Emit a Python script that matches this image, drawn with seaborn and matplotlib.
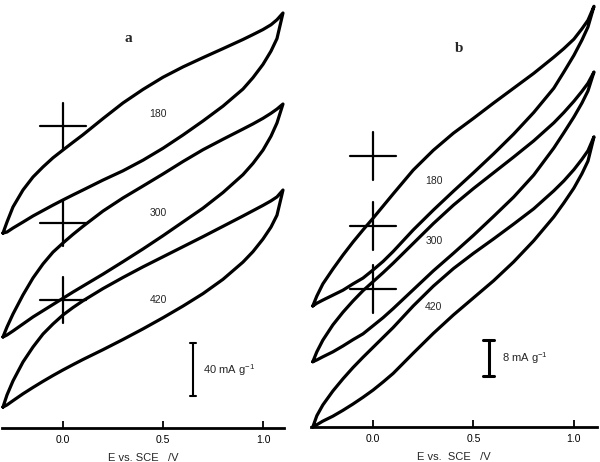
import numpy as np
import pandas as pd
import matplotlib.pyplot as plt
import seaborn as sns

#### Data: cyclic voltammograms (current in mA/g, relative to each curve's zero mark)
E = [-0.30, -0.28, -0.25, -0.20, -0.15, -0.10, -0.05, 0.00, 0.05, 0.10, 0.20, 0.30,
     0.40, 0.50, 0.60, 0.70, 0.80, 0.90, 0.95, 1.00, 1.04, 1.07, 1.10]
temps = ['180', '300', '420']

# panel a (anodic = upper branch, cathodic = lower branch)
a180_up = [-80.8, -72.5, -61.1, -48.3, -38.5, -30.9, -24.0, -18.1, -12.3, -6.6, 5.6, 17.4,
           27.6, 36.8, 44.6, 51.6, 58.4, 65.3, 69.0, 72.8, 76.4, 80.2, 85.3]
a180_dn = [-80.8, -80.0, -77.0, -72.5, -67.9, -63.8, -59.7, -55.8, -52.0, -48.3, -40.8, -33.8,
           -25.8, -16.8, -6.8, 3.8, 15.0, 27.9, 36.5, 46.5, 56.5, 66.0, 85.3]
a300_up = [-86.0, -78.5, -68.7, -54.3, -41.5, -30.9, -22.0, -15.1, -8.6, -2.5, 9.0, 18.9,
           27.9, 37.0, 46.4, 55.3, 63.2, 70.9, 74.8, 79.0, 82.8, 86.0, 89.8]
a300_dn = [-86.0, -84.5, -81.5, -76.2, -70.9, -66.2, -61.5, -56.8, -52.1, -47.6, -38.6, -29.2,
           -19.6, -9.6, 0.8, 11.2, 23.0, 36.5, 45.0, 55.0, 65.5, 75.5, 89.8]
a420_up = [-80.8, -71.7, -61.1, -46.8, -35.5, -25.7, -18.1, -11.3, -5.7, -0.6, 8.6, 17.0,
           25.0, 32.6, 40.2, 47.8, 55.6, 63.4, 67.4, 71.4, 74.8, 77.8, 83.0]
a420_dn = [-80.8, -79.2, -76.0, -70.8, -66.0, -61.4, -57.0, -52.8, -48.8, -44.9, -37.5, -29.8,
           -21.8, -13.4, -4.6, 4.8, 15.6, 28.6, 36.5, 46.0, 55.0, 64.0, 83.0]

# panel b
b180_up = [-33.3, -31.1, -28.4, -25.1, -22.0, -19.1, -16.4, -13.8, -11.1, -8.4, -3.1, 1.3,
           5.1, 8.4, 11.8, 15.1, 18.4, 22.0, 23.9, 26.0, 28.3, 30.2, 33.3]
b180_dn = [-33.3, -32.7, -32.0, -30.9, -29.8, -28.4, -27.1, -25.3, -23.4, -21.2, -16.4, -12.0,
           -7.8, -3.7, 0.5, 4.9, 9.7, 15.1, 18.7, 22.4, 25.8, 28.7, 33.3]
b300_up = [-30.2, -28.0, -25.4, -22.0, -19.2, -16.7, -14.4, -12.4, -10.4, -8.3, -3.9, 0.5,
           4.6, 8.3, 11.8, 15.3, 18.9, 22.9, 25.2, 27.7, 29.9, 31.7, 34.2]
b300_dn = [-30.2, -29.8, -29.1, -28.0, -26.7, -25.3, -24.0, -22.2, -20.4, -18.4, -14.2, -10.0,
           -6.1, -2.1, 2.1, 6.4, 11.3, 17.3, 20.7, 24.2, 27.3, 30.0, 34.2]
b420_up = [-30.7, -28.2, -25.8, -22.7, -20.0, -17.5, -15.2, -13.0, -10.8, -8.6, -3.8, 0.6,
           4.5, 7.9, 11.1, 14.4, 17.8, 21.8, 24.0, 26.5, 28.8, 30.7, 33.8]
b420_dn = [-30.7, -30.2, -29.4, -28.3, -27.0, -25.6, -24.1, -22.5, -20.7, -18.8, -14.3, -9.9,
           -5.8, -2.0, 1.8, 6.0, 10.7, 16.0, 19.1, 22.4, 25.6, 28.4, 33.8]

# vertical stacking offsets (mA/g) of each curve
offsets_a = [227.9, 154.7, 96.6]
offsets_b = [60.2, 44.7, 30.7]

sns.set_theme(style='white')
plt.rcParams['font.family'] = ['Liberation Sans', 'DejaVu Sans']
plt.rcParams['mathtext.fontset'] = 'custom'
plt.rcParams['mathtext.rm'] = 'Liberation Sans'
plt.rcParams['mathtext.it'] = 'Liberation Sans'

fig = plt.figure(figsize=(6, 4.62), dpi=100)
ax_a = fig.add_axes([0.0033, 0.0736, 0.47, 0.9264])
ax_b = fig.add_axes([0.518, 0.0758, 0.477, 0.9242])


def draw_panel(ax, ups, dns, offsets, label_x, label_ys, cross_h):
    for up, dn, off, t, ly in zip(ups, dns, offsets, temps, label_ys):
        df = pd.DataFrame({'E': E + E[::-1],
                           'I': np.r_[up, dn[::-1]] + off})
        sns.lineplot(data=df, x='E', y='I', sort=False, estimator=None,
                     color='black', lw=2.3, ax=ax)
        # zero-current cross
        ax.plot([-0.115, 0.115], [off, off], color='black', lw=1.6)
        ax.plot([0, 0], [off - cross_h, off + cross_h], color='black', lw=1.6)
        ax.text(label_x, ly, t, fontsize=7.5, ha='center', va='center')
    for ln in ax.lines:
        ln.set_clip_on(False)


draw_panel(ax_a, [a180_up, a300_up, a420_up], [a180_dn, a300_dn, a420_dn],
           offsets_a, 0.475, [237.0, 162.3, 96.6], 17.4)
draw_panel(ax_b, [b180_up, b300_up, b420_up], [b180_dn, b300_dn, b420_dn],
           offsets_b, 0.303, [54.7, 41.3, 26.7], 5.3)

# scale bars
ax_a.plot([0.65, 0.65], [24.2, 64.2], color='black', lw=1.5)
ax_a.plot([0.635, 0.665], [24.2, 24.2], color='black', lw=1.5)
ax_a.plot([0.635, 0.665], [64.2, 64.2], color='black', lw=1.5)
ax_a.text(0.70, 43.8, '40 mA g$^{-1}$', fontsize=8, va='center')

ax_b.plot([0.576, 0.576], [11.3, 19.3], color='black', lw=2.2)
ax_b.plot([0.549, 0.603], [11.3, 11.3], color='black', lw=2.2)
ax_b.plot([0.549, 0.603], [19.3, 19.3], color='black', lw=2.2)
ax_b.text(0.64, 15.3, '8 mA g$^{-1}$', fontsize=8, va='center')

ax_a.text(0.325, 293.6, 'a', fontsize=11, fontweight='bold',
          family='Liberation Serif', ha='center', va='center')
ax_b.text(0.427, 84.2, 'b', fontsize=11, fontweight='bold',
          family='Liberation Serif', ha='center', va='center')

for ax, xl, yl, lab in [(ax_a, (-0.305, 1.105), 323.0, 'E vs. SCE   /V'),
                        (ax_b, (-0.31, 1.115), 94.9, 'E vs.  SCE   /V')]:
    ax.set_xlim(*xl)
    ax.set_ylim(0, yl)
    ax.set_yticks([])
    ax.set_ylabel('')
    ax.set_xticks([0, 0.5, 1.0])
    ax.set_xticklabels(['0.0', '0.5', '1.0'])
    ax.tick_params(axis='x', direction='in', length=5, width=1.3,
                   labelsize=7.5, pad=5, bottom=True, colors='black')
    ax.set_xlabel(lab, fontsize=8, labelpad=6)
    for s in ['left', 'top', 'right']:
        ax.spines[s].set_visible(False)
    ax.spines['bottom'].set_linewidth(2.0)
    ax.spines['bottom'].set_color('black')
    ax.set_facecolor('white')

fig.savefig('out.png', dpi=100)
